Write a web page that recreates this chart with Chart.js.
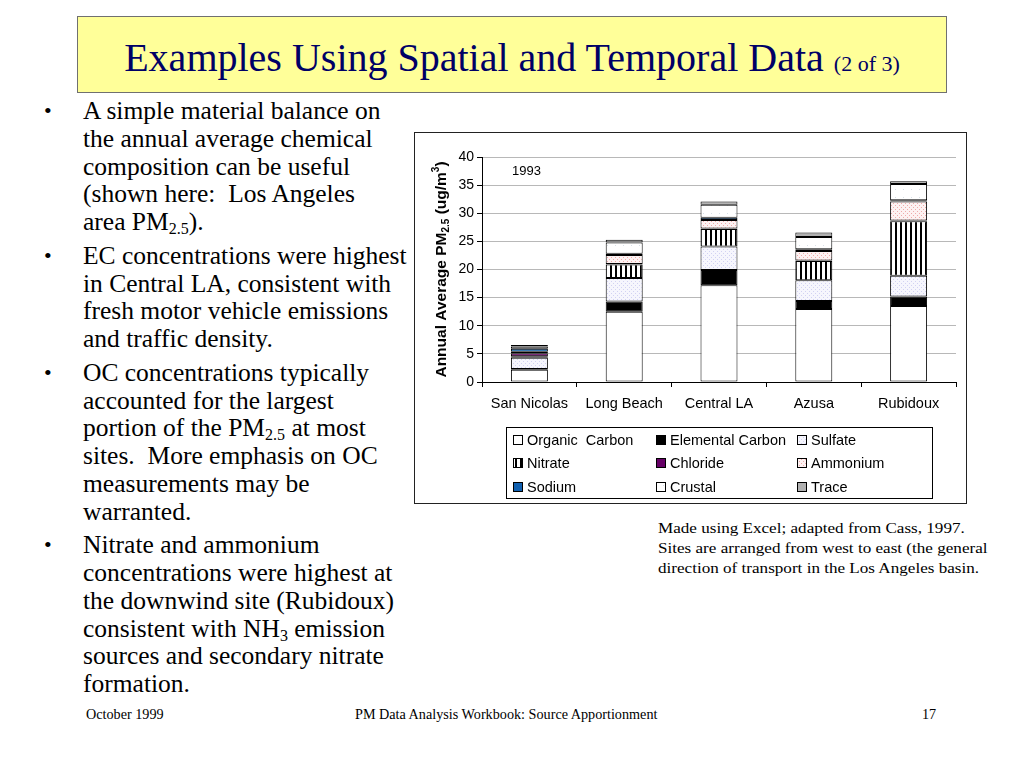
<!DOCTYPE html>
<html>
<head>
<meta charset="utf-8">
<script src="https://cdn.jsdelivr.net/npm/chart.js@4"></script>
<style>
  body { margin: 0; background: #fff; width: 1024px; height: 768px; position: relative; overflow: hidden; font-family: "Liberation Serif", "Times New Roman", serif; }
  #titulo { position: absolute; left: 77px; top: 16px; width: 870px; height: 77px; background: #ffff99; border: 1px solid #707070; box-sizing: border-box; text-align: center; padding-top: 6px; line-height: 70px; color: #000066; font-size: 40px; }
  #titulo small { font-size: 22px; }
  #bullets { position: absolute; left: 40px; top: 97px; margin: 0; padding: 0; list-style: none; font-size: 25.5px; line-height: 27.75px; color: #000; }
  #bullets li { position: relative; padding-left: 43px; margin-bottom: 6px; white-space: nowrap; }
  #bullets li::before { content: "\2022"; position: absolute; left: 4px; font-size: 22px; }
  sub { font-size: 16px; vertical-align: -4px; line-height: 0; }
  #caixa { position: absolute; left: 414px; top: 132px; width: 551px; height: 370px; border: 1px solid #222; }
  #nota { position: absolute; left: 658px; top: 518px; font-size: 15px; line-height: 20px; transform: scaleX(1.14); transform-origin: left top; white-space: nowrap; }
  .rodape { position: absolute; top: 706px; font-size: 14.2px; }
</style>
</head>
<body>
<div id="titulo">Examples Using Spatial and Temporal Data <small>(2 of 3)</small></div>
<ul id="bullets">
  <li>A simple material balance on<br>the annual average chemical<br>composition can be useful<br>(shown here:&nbsp; Los Angeles<br>area PM<sub>2.5</sub>).</li>
  <li>EC concentrations were highest<br>in Central LA, consistent with<br>fresh motor vehicle emissions<br>and traffic density.</li>
  <li>OC concentrations typically<br>accounted for the largest<br>portion of the PM<sub>2.5</sub> at most<br>sites.&nbsp; More emphasis on OC<br>measurements may be<br>warranted.</li>
  <li>Nitrate and ammonium<br>concentrations were highest at<br>the downwind site (Rubidoux)<br>consistent with NH<sub>3</sub> emission<br>sources and secondary nitrate<br>formation.</li>
</ul>
<div id="caixa"><canvas id="graficoBarra" width="551" height="370"></canvas></div>
<div id="nota">Made using Excel; adapted from Cass, 1997.<br>Sites are arranged from west to east (the general<br>direction of transport in the Los Angeles basin.</div>
<div class="rodape" style="left:86px">October 1999</div>
<div class="rodape" style="left:355px">PM Data Analysis Workbook: Source Apportionment</div>
<div class="rodape" style="left:922px">17</div>

<script>
const locais = ['San Nicolas', 'Long Beach', 'Central LA', 'Azusa', 'Rubidoux'];
const componentes = ['Organic  Carbon', 'Elemental Carbon', 'Sulfate', 'Nitrate', 'Chloride', 'Ammonium', 'Sodium', 'Crustal', 'Trace'];
const carbonoOrganico = [2.2, 12.5, 17.2, 13.0, 13.5];
const carbonoElementar = [0.1, 1.8, 2.7, 1.4, 1.7];
const sulfato = [2.0, 4.2, 4.2, 3.7, 3.7];
const nitrato = [0.3, 2.4, 3.1, 3.4, 9.7];
const cloreto = [0.5, 0.1, 0.1, 0.1, 0.1];
const amonio = [0.3, 1.6, 1.5, 1.7, 3.4];
const sodio = [0.5, 0.2, 0.4, 0.3, 0.2];
const crustal = [0.4, 2.0, 2.3, 2.2, 2.9];
const traco = [0.3, 0.5, 0.6, 0.8, 0.5];
const ticksY = [0, 5, 10, 15, 20, 25, 30, 35, 40];

function criaPadrao(w, h, fundo, desenha) {
  const c = document.createElement('canvas');
  c.width = w; c.height = h;
  const ctx = c.getContext('2d');
  ctx.fillStyle = fundo;
  ctx.fillRect(0, 0, w, h);
  desenha(ctx);
  return ctx.createPattern(c, 'repeat');
}

const pontilhado = (cor) => (ctx) => {
  ctx.fillStyle = cor;
  ctx.fillRect(0, 0, 1, 1);
  ctx.fillRect(2, 2, 1, 1);
};

const cores = [
  '#ffffff',
  '#000000',
  criaPadrao(4, 4, '#f6f6fd', pontilhado('#d2d2f2')),
  criaPadrao(5, 5, '#ffffff', (ctx) => { ctx.fillStyle = '#000'; ctx.fillRect(0, 0, 2, 5); }),
  '#660066',
  criaPadrao(4, 4, '#fdf2f2', pontilhado('#eeaaaa')),
  '#1060b0',
  criaPadrao(8, 8, '#ffffff', (ctx) => { ctx.fillStyle = '#d8e0e8'; ctx.fillRect(0, 0, 1, 1); }),
  '#b0b0b0'
];

const series = [carbonoOrganico, carbonoElementar, sulfato, nitrato, cloreto, amonio, sodio, crustal, traco];

const tituloEixo = {
  id: 'tituloEixo',
  afterDraw(chart) {
    const ctx = chart.ctx;
    const area = chart.chartArea;
    const partes = [
      { t: 'Annual Average PM', f: 'bold 15.5px "Liberation Sans", Arial', dy: 0 },
      { t: '2.5', f: 'bold 10px "Liberation Sans", Arial', dy: 3 },
      { t: ' (ug/m', f: 'bold 15.5px "Liberation Sans", Arial', dy: 0 },
      { t: '3', f: 'bold 10px "Liberation Sans", Arial', dy: -7 },
      { t: ')', f: 'bold 15.5px "Liberation Sans", Arial', dy: 0 }
    ];
    let total = 0;
    partes.forEach(p => { ctx.font = p.f; p.w = ctx.measureText(p.t).width; total += p.w; });
    ctx.save();
    ctx.translate(25, (area.top + area.bottom) / 2);
    ctx.rotate(-Math.PI / 2);
    ctx.fillStyle = '#000';
    ctx.textBaseline = 'alphabetic';
    let x = -total / 2;
    partes.forEach(p => { ctx.font = p.f; ctx.fillText(p.t, x, 6 + p.dy); x += p.w; });
    ctx.restore();

    // rotulo do ano
    ctx.save();
    ctx.font = '13px "Liberation Sans", Arial';
    ctx.fillStyle = '#000';
    ctx.textBaseline = 'middle';
    ctx.fillText('1993', area.left + 30, area.top + 14);
    ctx.restore();
  }
};

const legendaCaixa = {
  id: 'legendaCaixa',
  afterDraw(chart) {
    const ctx = chart.ctx;
    const bx = 91, by = 294, bw = 426, bh = 71;
    ctx.save();
    ctx.strokeStyle = '#000';
    ctx.lineWidth = 1;
    ctx.strokeRect(bx + 0.5, by + 0.5, bw, bh);
    const colX = [98, 241, 382];
    const linY = [307, 330, 354];
    ctx.font = '14.5px "Liberation Sans", Arial';
    ctx.textBaseline = 'middle';
    chart.data.datasets.forEach((ds, i) => {
      const x = colX[i % 3];
      const y = linY[Math.floor(i / 3)];
      ctx.fillStyle = ds.backgroundColor;
      ctx.fillRect(x, y - 5, 10, 10);
      ctx.strokeStyle = '#000';
      ctx.strokeRect(x + 0.5, y - 4.5, 9, 9);
      ctx.fillStyle = '#000';
      ctx.fillText(ds.label, x + 14, y + 1);
    });
    ctx.restore();
  }
};

function constroiGrafico() {
  const data = {
    labels: locais,
    datasets: componentes.map((nome, i) => ({
      label: nome,
      data: series[i],
      backgroundColor: cores[i],
      borderColor: '#000000',
      borderWidth: 1,
      borderSkipped: false,
      categoryPercentage: 1,
      barPercentage: 0.39
    }))
  };

  const config = {
    type: 'bar',
    data: data,
    options: {
      responsive: false,
      animation: false,
      layout: { padding: { left: 30, right: 10, top: 24, bottom: 85 } },
      plugins: {
        legend: { display: false },
        tooltip: { enabled: false }
      },
      scales: {
        x: {
          stacked: true,
          grid: { drawOnChartArea: false, drawTicks: true, tickLength: 5, tickColor: '#000', offset: true },
          border: { color: '#000', width: 1 },
          ticks: { color: '#000', font: { family: '"Liberation Sans", Arial', size: 14.5 }, padding: 8 },
          afterFit: (s) => { s.height = 36; }
        },
        y: {
          stacked: true,
          min: 0,
          max: 40,
          afterBuildTicks: (s) => { s.ticks = ticksY.map(v => ({ value: v })); },
          grid: { color: '#b8b8b8', tickLength: 5, tickColor: '#000' },
          border: { color: '#000', width: 1 },
          ticks: { color: '#000', font: { family: '"Liberation Sans", Arial', size: 14 }, padding: 3 },
          afterFit: (s) => { s.width = 37; }
        }
      }
    },
    plugins: [tituloEixo, legendaCaixa]
  };

  new Chart(document.getElementById('graficoBarra'), config);
}

constroiGrafico();
</script>
</body>
</html>
